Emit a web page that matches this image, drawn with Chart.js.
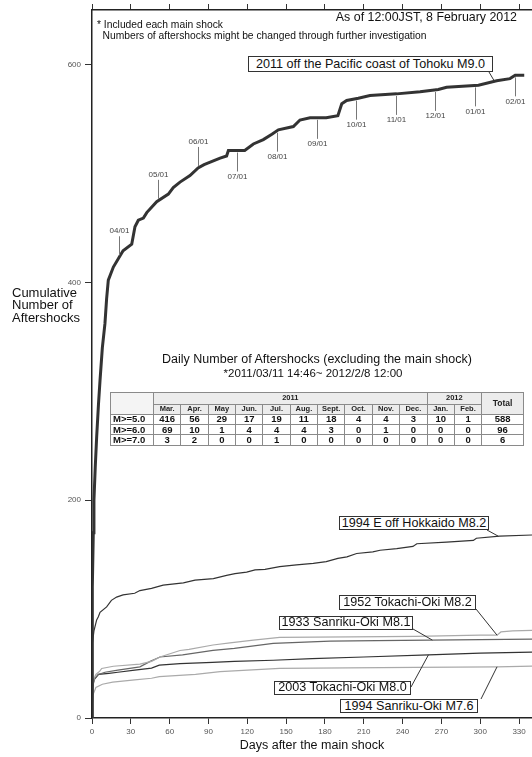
<!DOCTYPE html>
<html>
<head>
<meta charset="utf-8">
<script src="https://cdn.jsdelivr.net/npm/chart.js@4.4.1/dist/chart.umd.min.js"></script>
<style>
    body { margin: 0; background: #fff; font-family: "Liberation Sans", Arial, sans-serif; color: #111; }
    #wrap { position: relative; width: 532px; height: 757px; overflow: hidden; }
    #chart { position: absolute; left: 0; top: 0; }
    .txt { position: absolute; white-space: nowrap; line-height: 1; }
    .tag { position: absolute; box-sizing: border-box; border: 1px solid #333; background: #fff;
           text-align: center; font-size: 12.6px; white-space: nowrap; }
    #counts { position: absolute; left: 110px; top: 392px; width: 413px; border-collapse: collapse;
              table-layout: fixed; font-size: 9.5px; }
    #counts td, #counts th { border: 1px solid #8a8a8a; padding: 0; text-align: center; line-height: 8px;
                             overflow: hidden; white-space: nowrap; }
    #counts thead th { background: #ececec; font-size: 7.5px; color: #222; }
    #counts thead th.corner { background: #f4f4f4; }
    #counts thead th.total { font-size: 8.5px; }
    #counts tbody th { text-align: left; padding-left: 2px; }
    #counts tbody td, #counts tbody th { font-weight: bold; }
</style>
</head>
<body>
<div id="wrap">
    <canvas id="chart" width="532" height="757"></canvas>

    <div class="txt" style="right:15px; top:10.5px; font-size:12.4px;">As of 12:00JST, 8 February 2012</div>
    <div class="txt" style="left:97px; top:19.5px; font-size:10.3px;">* Included each main shock</div>
    <div class="txt" style="left:102.5px; top:31px; font-size:10.3px;">Numbers of aftershocks might be changed through further investigation</div>

    <div class="txt" style="left:12px; top:286.5px; font-size:13px; line-height:12.7px;">Cumulative<br>Number of<br>Aftershocks</div>

    <div class="txt" style="left:117px; width:400px; text-align:center; top:352.7px; font-size:12.5px;">Daily Number of Aftershocks (excluding the main shock)</div>
    <div class="txt" style="left:113px; width:400px; text-align:center; top:368.3px; font-size:11.5px;">*2011/03/11 14:46~ 2012/2/8 12:00</div>

    <table id="counts"></table>
</div>

<script>
// cumulative M>=5 counts (days after each main shock)
var tohokuDays   = [0, 0.1, 0.4, 1, 1.5, 2.5, 3.6, 5, 6.2, 8, 10, 11.3, 12.6, 16.5, 21, 24, 30.7, 33.2, 35.8, 39.7, 42.3,
                    50, 59, 62.8, 68, 75.7, 82, 86.6, 99, 104, 105.4, 118, 124.7, 132.4, 139, 144, 155.6, 160.7, 168.5,
                    181, 190, 193, 196.8, 205.8, 214.8, 235.4, 253.5, 267.6, 274, 298.6, 312.7, 323, 327, 334];
var tohokuCounts = [1, 60, 120, 170, 200, 230, 258, 288, 310, 340, 362, 385, 402, 414, 423, 429, 435, 451, 457, 459, 464,
                    474, 481, 487, 492, 498, 505, 508, 514, 516, 521, 521, 527, 531, 536, 540, 543, 549, 551,
                    551, 553, 564, 567, 569, 571.5, 573, 575, 577, 579, 581, 585, 587, 590, 590];

var hokkaidoDays   = [0, 0.1, 0.3, 0.6, 1.5, 3.6, 4.9, 6.2, 11.3, 15, 19, 24, 33, 37, 46, 55, 70.6, 79.6, 93.8, 104, 110.5,
                      119.5, 126, 133.7, 145, 158, 171, 181, 190, 197, 204.5, 217, 222.6, 235.5, 248, 251, 274, 294.7,
                      297, 315, 340];
var hokkaidoCounts = [1, 30, 55, 69, 80, 90, 93, 97, 102, 108, 111, 113, 114.5, 117, 119, 122, 124, 126.5, 128, 131, 132.5,
                      134, 136, 136.5, 139, 140.5, 142, 143.5, 146.5, 148, 151, 152.5, 154, 155.5, 157.5, 160, 161.5, 163,
                      165, 167, 168];

var tokachi52Days   = [0, 0.2, 0.6, 1.5, 3, 6, 7.5, 16.5, 37, 46, 52.5, 68, 75, 93.5, 106.6, 124.7, 145, 200, 250, 300, 313, 316, 325, 340];
var tokachi52Counts = [1, 15, 28, 36, 40, 43, 45.5, 47.5, 49.5, 52, 56, 62, 63, 67, 69, 71.5, 74, 74.5, 75, 76, 76, 79, 80, 80.5];

var sanriku33Days   = [0, 0.2, 0.8, 2, 5, 10, 20, 37, 45, 52.5, 70, 93.5, 110, 140, 184, 220, 261, 300, 340];
var sanriku33Counts = [1, 18, 30, 36, 40, 42, 44, 47, 52, 56, 58, 62, 64, 68.5, 70.5, 71, 71.5, 72, 72.5];

var tokachi03Days   = [0, 0.1, 0.5, 1.5, 5, 13, 20, 33, 46, 52, 68, 93, 110, 140, 170, 210, 260, 300, 340];
var tokachi03Counts = [1, 15, 28, 35, 40, 41, 42, 44, 45.8, 48.5, 50, 51, 52, 53, 54.5, 56, 58, 59.5, 60.5];

var sanriku94Days   = [0, 0.2, 1, 3, 8, 16, 33, 46, 52, 80, 99, 145, 250, 313, 340];
var sanriku94Counts = [1, 12, 22, 28, 31, 33, 35, 36.5, 38, 40, 42.5, 45.6, 46.5, 47, 47.7];

var seriesNames = ["2011 off the Pacific coast of Tohoku M9.0", "1994 E off Hokkaido M8.2", "1952 Tokachi-Oki M8.2",
                   "1933 Sanriku-Oki M8.1", "2003 Tokachi-Oki M8.0", "1994 Sanriku-Oki M7.6"];

// first of each month on the 2011 curve
var monthDays   = [21, 51, 82, 112, 143, 174, 204, 235, 265, 296, 327];
var monthLabels = ["04/01", "05/01", "06/01", "07/01", "08/01", "09/01", "10/01", "11/01", "12/01", "01/01", "02/01"];

var dayTicks   = [0, 30, 60, 90, 120, 150, 180, 210, 240, 270, 300, 330];
var countTicks = [0, 200, 400, 600];

// monthly table
var tableMonths = ["Mar.", "Apr.", "May", "Jun.", "Jul.", "Aug.", "Sept.", "Oct.", "Nov.", "Dec.", "Jan.", "Feb."];
var tableYears  = ["2011", "2012"];
var tableRows   = ["M>=5.0", "M>=6.0", "M>=7.0"];
var countsM5 = [416, 56, 29, 17, 19, 11, 18, 4, 4, 3, 10, 1];
var countsM6 = [69, 10, 1, 4, 4, 4, 3, 0, 1, 0, 0, 0];
var countsM7 = [3, 2, 0, 0, 1, 0, 0, 0, 0, 0, 0, 0];
var rowTotals = [588, 96, 6];

(function(global){
    "use strict";

    var FONT = "'Liberation Sans', Arial, sans-serif";

    var points = function(days, vals) {
        return days.map(function(d, i){ return {x: d, y: vals[i]}; });
    };

    // linear lookup on a curve, same as how the line is drawn
    var valueAt = function(days, vals, d) {
        for(var i = 1; i < days.length; i++) {
            if(d <= days[i]) {
                var t = (d - days[i-1]) / (days[i] - days[i-1]);
                return vals[i-1] + t * (vals[i] - vals[i-1]);
            }
        }
        return vals[vals.length - 1];
    };

    var curves = [
        {days: tohokuDays,    vals: tohokuCounts,    color: "#333", width: 3},
        {days: hokkaidoDays,  vals: hokkaidoCounts,  color: "#333", width: 1.2},
        {days: tokachi52Days, vals: tokachi52Counts, color: "#aaa", width: 1.2},
        {days: sanriku33Days, vals: sanriku33Counts, color: "#666", width: 1.2},
        {days: tokachi03Days, vals: tokachi03Counts, color: "#333", width: 1.2},
        {days: sanriku94Days, vals: sanriku94Counts, color: "#aaa", width: 1.2}
    ];

    // name boxes (pixels) and where their leader meets the curve (day)
    var tags = [
        {left: 248, top: 56,  w: 245, h: 16,   fx: 489, fy: 72,  day: 311},
        {left: 339, top: 516, w: 150, h: 14,   fx: 487, fy: 530, day: 314},
        {left: 339, top: 595, w: 137, h: 14.5, fx: 476, fy: 609, day: 313},
        {left: 279, top: 616, w: 134, h: 13.5, fx: 413, fy: 629, day: 263},
        {left: 274, top: 681, w: 137, h: 13.5, fx: 411, fy: 687, day: 260},
        {left: 340, top: 699, w: 138, h: 14,   fx: 481, fy: 699, day: 313}
    ];

    var wrap = document.getElementById("wrap");
    tags.forEach(function(t, i){
        var div = document.createElement("div");
        div.className = "tag";
        div.style.left = t.left + "px";
        div.style.top = t.top + "px";
        div.style.width = t.w + "px";
        div.style.height = t.h + "px";
        div.style.lineHeight = (t.h - 2) + "px";
        div.textContent = seriesNames[i];
        wrap.appendChild(div);
    });

    // table
    var buildTable = function() {
        var table = document.getElementById("counts");
        var html = "<colgroup><col style='width:43px'>";
        for(var i = 0; i < tableMonths.length; i++) {
            html += "<col style='width:27.35px'>";
        }
        html += "<col style='width:41.8px'></colgroup>";

        html += "<thead><tr style='height:11.5px'><th class='corner' rowspan='2'></th>";
        html += "<th colspan='10'>" + tableYears[0] + "</th><th colspan='2'>" + tableYears[1] + "</th>";
        html += "<th class='total' rowspan='2'>Total</th></tr><tr style='height:10.3px'>";
        for(i = 0; i < tableMonths.length; i++) {
            html += "<th>" + tableMonths[i] + "</th>";
        }
        html += "</tr></thead><tbody>";

        var rows = [countsM5, countsM6, countsM7];
        for(var r = 0; r < rows.length; r++) {
            html += "<tr style='height:10.3px'><th>" + tableRows[r] + "</th>";
            for(i = 0; i < rows[r].length; i++) {
                html += "<td>" + rows[r][i] + "</td>";
            }
            html += "<td>" + rowTotals[r] + "</td></tr>";
        }
        html += "</tbody>";
        table.innerHTML = html;
    };
    buildTable();

    var marksPlugin = {
        id: "quakeMarks",
        afterDatasetsDraw: function(chart) {
            var ctx = chart.ctx;
            var xs = chart.scales.x;
            var ys = chart.scales.y;

            ctx.save();
            ctx.lineWidth = 1;
            ctx.strokeStyle = "#777";
            ctx.fillStyle = "#444";
            ctx.font = "8px " + FONT;
            ctx.textAlign = "center";
            ctx.textBaseline = "middle";

            for(var i = 0; i < monthDays.length; i++) {
                var px = Math.round(xs.getPixelForValue(monthDays[i])) + 0.5;
                var py = ys.getPixelForValue(valueAt(tohokuDays, tohokuCounts, monthDays[i]));
                var dir = i < 3 ? -1 : 1; //first three hang above the curve
                ctx.beginPath();
                ctx.moveTo(px, py + dir * 2);
                ctx.lineTo(px, py + dir * 21);
                ctx.stroke();
                ctx.fillText(monthLabels[i], px, py + dir * 26);
            }

            ctx.strokeStyle = "#333";
            for(var k = 0; k < tags.length; k++) {
                var t = tags[k];
                var c = curves[k];
                ctx.beginPath();
                ctx.moveTo(t.fx, t.fy);
                ctx.lineTo(xs.getPixelForValue(t.day), ys.getPixelForValue(valueAt(c.days, c.vals, t.day)));
                ctx.stroke();
            }
            ctx.restore();
        }
    };

    var useTicks = function(values) {
        return function(scale) {
            scale.ticks = values.map(function(v){ return {value: v}; });
        };
    };

    var tickGrid = function(len) {
        return {display: true, drawOnChartArea: false, drawTicks: true, tickLength: len, color: "#333", lineWidth: 1};
    };

    var axisBorder = {display: true, color: "#222", width: 1.5};

    var datasets = curves.map(function(c, i){
        return {
            label: seriesNames[i],
            data: points(c.days, c.vals),
            borderColor: c.color,
            borderWidth: c.width,
            pointRadius: 0,
            tension: 0,
            fill: false
        };
    });

    global.quakeChart = new Chart(document.getElementById("chart"), {
        type: "line",
        data: {datasets: datasets},
        options: {
            responsive: false,
            animation: false,
            devicePixelRatio: 1,
            layout: {padding: 0},
            plugins: {legend: {display: false}, tooltip: {enabled: false}},
            scales: {
                x: {
                    type: "linear", min: 0, max: 340,
                    ticks: {autoSkip: false, maxRotation: 0, padding: 3, color: "#555", font: {size: 8, family: FONT}},
                    afterBuildTicks: useTicks(dayTicks),
                    grid: tickGrid(6),
                    border: axisBorder,
                    title: {display: true, text: "Days after the main shock", color: "#111",
                            font: {size: 12.5, family: FONT}, padding: {top: 0, bottom: 4}},
                    afterFit: function(s){ s.height = 39; }
                },
                xTop: {
                    type: "linear", position: "top", min: 0, max: 340,
                    ticks: {display: false},
                    afterBuildTicks: useTicks(dayTicks),
                    grid: tickGrid(6),
                    border: axisBorder,
                    afterFit: function(s){ s.height = 10; }
                },
                y: {
                    type: "linear", min: 0, max: 650,
                    ticks: {padding: 4, color: "#555", font: {size: 8, family: FONT}},
                    afterBuildTicks: useTicks(countTicks),
                    grid: tickGrid(7),
                    border: axisBorder,
                    afterFit: function(s){ s.width = 92; }
                }
            }
        },
        plugins: [marksPlugin]
    });

})(window);
</script>
</body>
</html>
